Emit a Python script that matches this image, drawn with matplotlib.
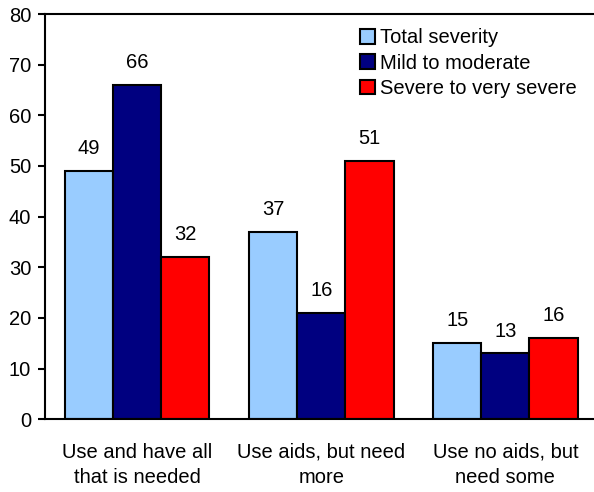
import matplotlib.pyplot as plt
import numpy as np

plt.rcParams['font.family'] = ['Liberation Sans', 'DejaVu Sans']

categories = ['Use and have all\nthat is needed', 'Use aids, but need\nmore', 'Use no aids, but\nneed some']
series_names = ['Total severity', 'Mild to moderate', 'Severe to very severe']
colors = ['#99ccff', '#000080', '#ff0000']

# bar heights as drawn, and the numbers printed above them
heights = [[49, 37, 15], [66, 21, 13], [32, 51, 16]]
labels = [['49', '37', '15'], ['66', '16', '13'], ['32', '51', '16']]

fs = 14.5

fig = plt.figure(figsize=(5.94, 4.92), dpi=100)
ax = fig.add_axes([0.0758, 0.148, 0.93, 0.8235])

x = np.arange(len(categories))
w = 0.262
for i, name in enumerate(series_names):
    pos = x + (i - 1) * w
    ax.bar(pos, heights[i], width=w, color=colors[i], edgecolor='black',
           linewidth=1.5, label=name)
    for px, h, t in zip(pos, heights[i], labels[i]):
        ax.annotate(t, (px, h), xytext=(0, 16), textcoords='offset points',
                    ha='center', va='center', fontsize=fs)

ax.set_xlim(-0.5, 2.5)
ax.set_ylim(0, 80)
ax.set_yticks(range(0, 81, 10))
ax.set_xticks(x)
ax.set_xticklabels(categories, fontsize=fs, linespacing=1.4)
ax.tick_params(axis='x', length=0, pad=17)
ax.tick_params(axis='y', direction='out', length=5, width=1.5, labelsize=fs, pad=5)
ax.spines['right'].set_visible(False)
for s in ['left', 'top', 'bottom']:
    ax.spines[s].set_linewidth(1.5)

ax.legend(loc='upper left', bbox_to_anchor=(0.555, 0.985), frameon=False,
          fontsize=fs, handlelength=0.75, handleheight=0.75, handletextpad=0.25,
          labelspacing=0.32, borderaxespad=0)

fig.savefig('out.png', dpi=100)
